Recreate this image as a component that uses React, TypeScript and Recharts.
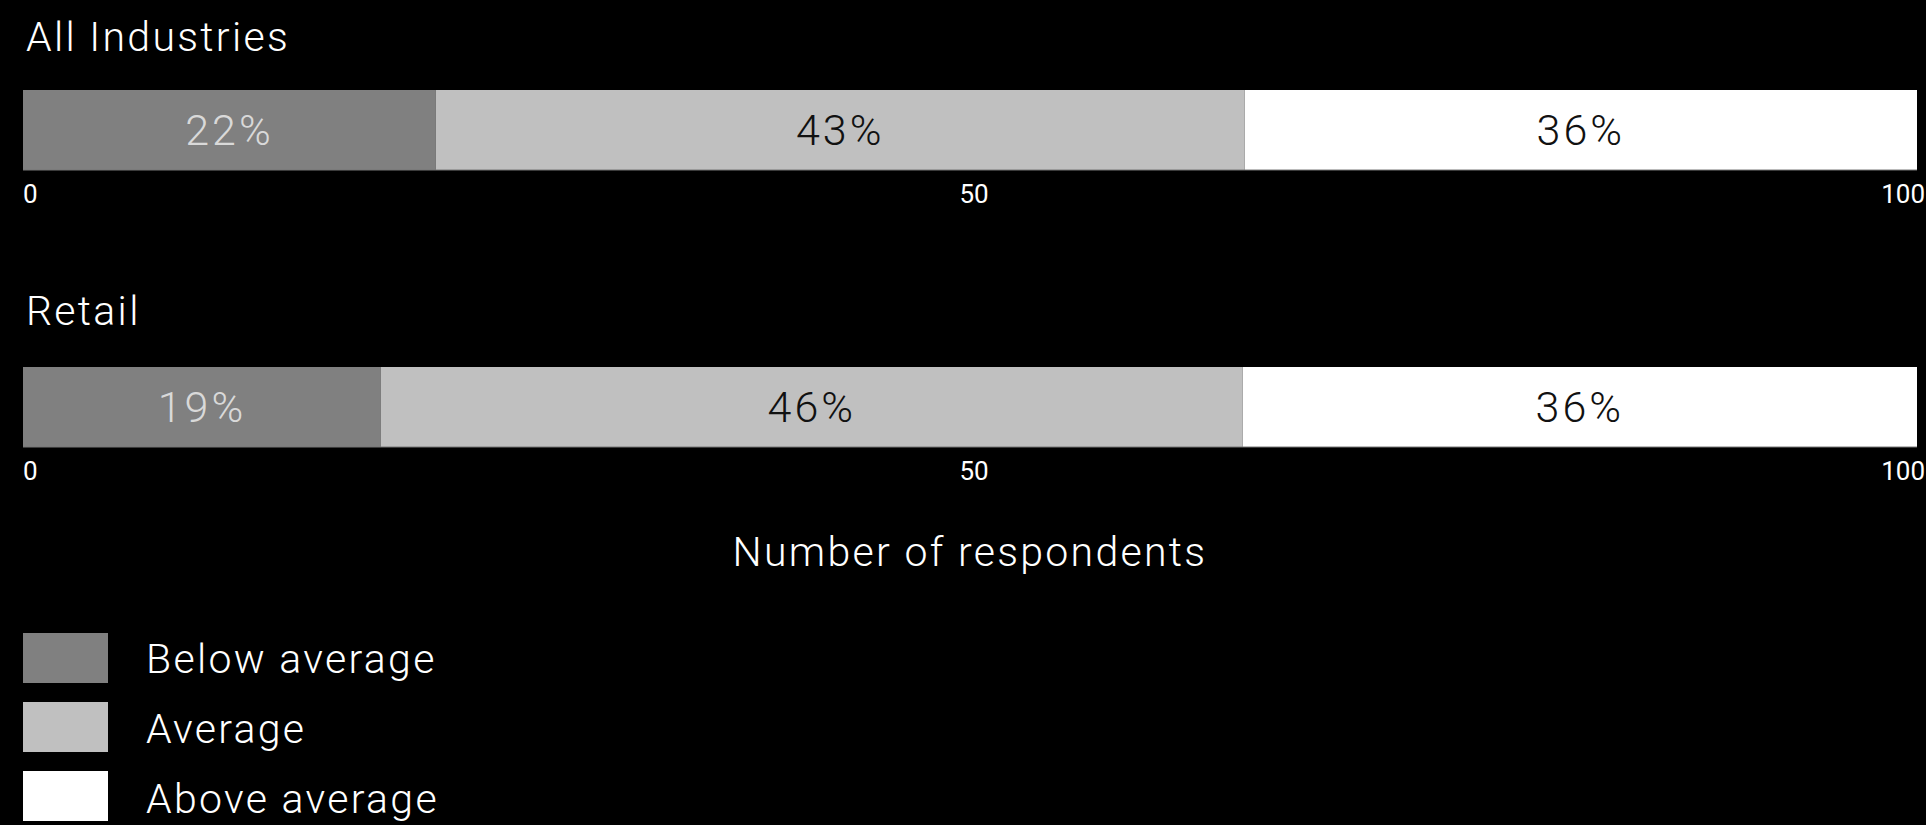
import { Bar, BarChart, LabelList, XAxis, YAxis } from "recharts";

const groups = ["All Industries", "Retail"];
const seriesNames = ["Below average", "Average", "Above average"];
const belowAverage = [21.8, 18.9];
const average = [42.7, 45.5];
const aboveAverage = [35.5, 35.6];
const xTicks = [0, 50, 100];
const axisTitle = "Number of respondents";

const keys = ["below", "average", "above"];
const colors = ["#808080", "#c0c0c0", "#ffffff"];
const labelColors = ["#d9d9d9", "#111111", "#111111"];
const font = "Roboto, 'Noto Sans', sans-serif";

const rows = groups.map((name, i) => ({
  name,
  below: belowAverage[i],
  average: average[i],
  above: aboveAverage[i],
}));

function AxisTick(props: any) {
  const { x, y, payload, index } = props;
  const last = index === xTicks.length - 1;
  const anchor = index === 0 ? "start" : last ? "end" : "middle";
  const dx = index === 0 ? 0 : last ? 8 : 4;
  return (
    <text
      x={x + dx}
      y={y + 33}
      textAnchor={anchor}
      fill="#ffffff"
      fontSize={26}
      fontWeight={400}
      fontFamily={font}
    >
      {payload.value}
    </text>
  );
}

function IndustryBar({ row, top }: { row: (typeof rows)[number]; top: number }) {
  return (
    <div style={{ position: "absolute", left: 0, top, width: 1926, height: 130 }}>
      <BarChart
        width={1926}
        height={130}
        data={[row]}
        layout="vertical"
        margin={{ top: 0, right: 9, left: 23, bottom: 0 }}
        barCategoryGap="0%"
      >
        <XAxis
          type="number"
          domain={[0, 100]}
          ticks={xTicks}
          interval={0}
          height={50}
          tickSize={0}
          tickMargin={0}
          tickLine={false}
          axisLine={{ stroke: "#777777" }}
          tick={<AxisTick />}
        />
        <YAxis type="category" dataKey="name" hide />
        {keys.map((k, i) => (
          <Bar key={k} dataKey={k} stackId="a" fill={colors[i]} isAnimationActive={false}>
            <LabelList
              dataKey={k}
              position="center"
              formatter={(v: any) => `${Math.round(Number(v))}%`}
              fill={labelColors[i]}
              fontSize={43}
              fontWeight={300}
              fontFamily={font}
              letterSpacing={3}
            />
          </Bar>
        ))}
      </BarChart>
    </div>
  );
}

const textStyle: React.CSSProperties = {
  color: "#ffffff",
  fontFamily: font,
  fontWeight: 300,
  fontSize: 41,
  letterSpacing: 2.3,
  whiteSpace: "nowrap",
};

const titleStyle: React.CSSProperties = {
  ...textStyle,
  position: "absolute",
  lineHeight: "40px",
};

export default function App() {
  const tops = [90, 367];
  const titleTops = [17, 291];
  return (
    <div
      style={{
        position: "fixed",
        left: 0,
        top: 0,
        width: 1926,
        height: 825,
        background: "#000000",
        overflow: "hidden",
      }}
    >
      {rows.map((row, i) => (
        <div key={row.name}>
          <div style={{ ...titleStyle, left: 26, top: titleTops[i] }}>{row.name}</div>
          <IndustryBar row={row} top={tops[i]} />
        </div>
      ))}
      <div style={{ ...titleStyle, left: 23, top: 532, width: 1894, textAlign: "center" }}>
        {axisTitle}
      </div>
      <div style={{ position: "absolute", left: 23, top: 633 }}>
        {seriesNames.map((name, i) => (
          <div key={name} style={{ width: 85, height: 50, marginBottom: 19, background: colors[i] }} />
        ))}
      </div>
      <div style={{ position: "absolute", left: 146, top: 634 }}>
        {seriesNames.map((name) => (
          <div key={name} style={{ ...textStyle, height: 50, lineHeight: "50px", marginBottom: 20 }}>
            {name}
          </div>
        ))}
      </div>
    </div>
  );
}
